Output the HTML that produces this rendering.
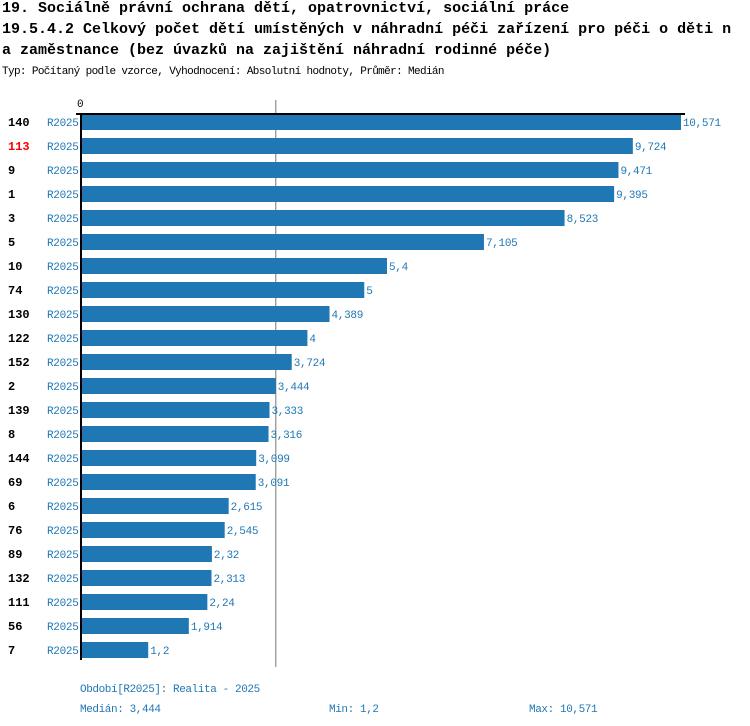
<!DOCTYPE html>
<html><head><meta charset="utf-8"><style>
body{margin:0;background:#fff;width:750px;height:726px;overflow:hidden;font-family:"Liberation Mono","DejaVu Sans Mono",monospace}
.t{position:absolute;left:2px;font-size:15px;font-weight:bold;white-space:nowrap;color:#000;letter-spacing:0px}
</style></head><body>
<div class="t" style="top:0px">19. Sociálně právní ochrana dětí, opatrovnictví, sociální práce</div>
<div class="t" style="top:21px">19.5.4.2 Celkový počet dětí umístěných v náhradní péči zařízení pro péči o děti n</div>
<div class="t" style="top:42px">a zaměstnance (bez úvazků na zajištění náhradní rodinné péče)</div>
<div style="position:absolute;left:2px;top:66px;font-size:11px;white-space:nowrap;letter-spacing:-0.63px">Typ: Počítaný podle vzorce, Vyhodnocení: Absolutní hodnoty, Průměr: Medián</div>
<svg id="c" width="750" height="726" style="position:absolute;left:0;top:0" font-family="Liberation Mono, DejaVu Sans Mono, monospace"></svg>
<script>
const categories=["140","113","9","1","3","5","10","74","130","122","152","2","139","8","144","69","6","76","89","132","111","56","7"];
const values=[10571,9724,9471,9395,8523,7105,5400,5000,4389,4000,3724,3444,3333,3316,3099,3091,2615,2545,2320,2313,2240,1914,1200];
const valueLabels=["10,571","9,724","9,471","9,395","8,523","7,105","5,4","5","4,389","4","3,724","3,444","3,333","3,316","3,099","3,091","2,615","2,545","2,32","2,313","2,24","1,914","1,2"];
const seriesName="R2025";
const highlight="113";
const median=3444;
const svg=document.getElementById('c');
const NS='http://www.w3.org/2000/svg';
const x0=80, scale=601/10571;
const xs=v=>x0+v*scale;
const ys=i=>114+i*24;
function mk(t,a){const e=document.createElementNS(NS,t);for(const k in a)e.setAttribute(k,a[k]);svg.appendChild(e);return e;}
const ml=mk('line',{x1:xs(median),x2:xs(median),y1:100,y2:667,stroke:'#777','stroke-width':1});


categories.forEach((c,i)=>{
  const y=ys(i);
  const b=mk('rect',{x:x0,y:y,width:xs(values[i])-x0,height:16,fill:'#1f77b4'});
  
  
  const l=mk('text',{x:8,y:y+12,'font-size':12,'font-weight':'bold',fill:c===highlight?'#ff0000':'#000'});
  l.textContent=c;
  
  
  const s=mk('text',{x:47,y:y+12,'font-size':11,fill:'#1f77b4','letter-spacing':'-0.3'});
  s.textContent=seriesName;
  
  
  const v=mk('text',{x:xs(values[i])+2,y:y+12,'font-size':11,fill:'#1f77b4','letter-spacing':'-0.3'});
  v.textContent=valueLabels[i];
  
  
});
const ax=mk('line',{x1:76,x2:685,y1:114,y2:114,stroke:'#000','stroke-width':2});


const ay=mk('line',{x1:81,x2:81,y1:113,y2:660,stroke:'#000','stroke-width':2});


const z=mk('text',{x:77,y:107,'font-size':11,fill:'#000'});z.textContent='0';


function foot(x,y,t,n){const e=mk('text',{x:x,y:y,'font-size':11,fill:'#1f77b4','letter-spacing':'-0.4'});e.textContent=t;

}
foot(80,692,'Období[R2025]: Realita - 2025','period-note');
foot(80,712,'Medián: 3,444','median-note');
foot(329,712,'Min: 1,2','min-note');
foot(529,712,'Max: 10,571','max-note');
</script>
</body></html>
